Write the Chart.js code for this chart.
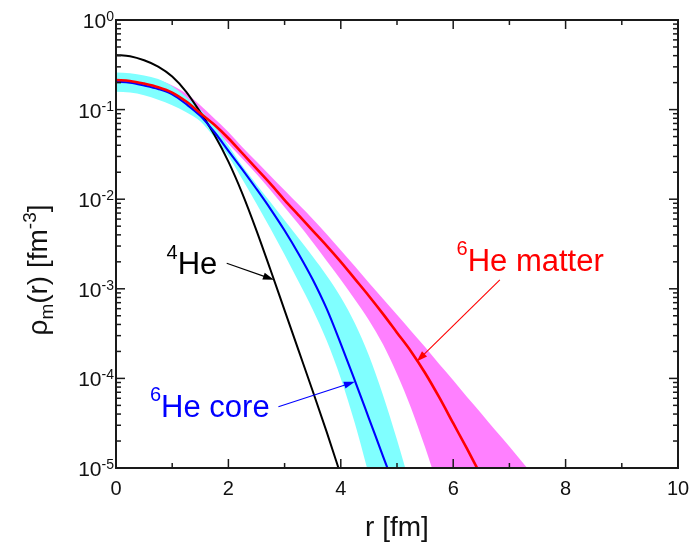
<!DOCTYPE html>
<html><head><meta charset="utf-8">
<script src="https://cdn.jsdelivr.net/npm/chart.js@4.4.1/dist/chart.umd.min.js"></script>
<style>html,body{margin:0;padding:0;background:#fff;overflow:hidden}canvas{display:block}</style>
</head><body>
<canvas id="c" width="691" height="545"></canvas>
<script>
// radius grid [fm]
const r = [0,0.25,0.5,0.75,1,1.25,1.5,1.75,2,2.25,2.5,2.75,3,3.25,3.5,3.75,4,4.25,4.5,4.75,5,5.25,5.5,5.75,6,6.25,6.5,6.75,7,7.25,7.5];
// 4He density
const he4 = [0.407,0.394,0.355,0.302,0.234,0.158,0.0933,0.0525,0.0263,0.0115,0.00447,0.00162,5.75e-4,2.04e-4,7.24e-5,2.51e-5,8.32e-6];
// 6He core: central line and band
const coreMid = [0.204,0.200,0.186,0.170,0.148,0.115,0.0851,0.0562,0.0347,0.0214,0.0130,0.00776,0.00447,0.00245,0.00127,5.96e-4,2.43e-4,9.44e-5,3.59e-5,1.36e-5,5.19e-6];
const coreHi = [0.260,0.254,0.240,0.219,0.182,0.138,0.100,0.0661,0.0398,0.0234,0.0146,0.00923,0.00582,0.00367,0.00229,0.00140,8.04e-4,4.12e-4,1.80e-4,6.53e-5,2.07e-5,5.96e-6];
const coreLo = [0.158,0.155,0.145,0.129,0.112,0.0933,0.0741,0.0490,0.0302,0.0166,0.00891,0.00468,0.00240,0.00120,5.89e-4,2.63e-4,1.00e-4,3.16e-5,8.32e-6,2.00e-6,4.00e-7,8.00e-8];
// 6He matter: central line and band
const matterMid = [0.214,0.209,0.195,0.178,0.155,0.123,0.0912,0.0676,0.0479,0.0324,0.0219,0.0148,0.00977,0.00661,0.00447,0.00302,0.00200,0.00129,8.32e-4,5.25e-4,3.24e-4,2.00e-4,1.15e-4,6.17e-5,3.16e-5,1.62e-5,8.13e-6];
const matterHi = [0.251,0.245,0.224,0.214,0.186,0.151,0.112,0.0794,0.0562,0.0380,0.0263,0.0182,0.0126,0.00871,0.00603,0.00407,0.00269,0.00178,0.00117,7.76e-4,5.13e-4,3.39e-4,2.24e-4,1.45e-4,9.55e-5,6.17e-5,4.07e-5,2.63e-5,1.74e-5,1.12e-5,7.41e-6];
const matterLo = [0.191,0.186,0.174,0.158,0.135,0.110,0.0832,0.0603,0.0417,0.0282,0.0191,0.0126,0.00813,0.00525,0.00331,0.00204,0.00126,7.59e-4,4.47e-4,2.40e-4,1.12e-4,4.68e-5,1.70e-5,5.62e-6,1.78e-6,5.62e-7,1.78e-7,5.62e-8,1.78e-8,5.62e-9,1.78e-9];

// ticks
const xMajor = [0,2,4,6,8,10];
const xMinor = [1,3,5,7,9];
const yMajor = [1,1e-1,1e-2,1e-3,1e-4,1e-5];
const yExp = ['0','-1','-2','-3','-4','-5'];
const yMinorMult = [2,3,4,5,6,7,8,9];

// annotations (data coordinates)
const labels = [
  {parts:[['4',20,-15],['He',31,0]], x:0.90, y:1.46e-3, color:'#000000'},
  {parts:[['6',20,-16],['He core',31,0]], x:0.605, y:3.74e-5, color:'#0000ff'},
  {parts:[['6',20,-16],['He matter',31,0]], x:6.06, y:1.58e-3, color:'#ff0000'}
];
const arrows = [
  {from:[1.97,1.93e-3], to:[2.81,1.26e-3], color:'#000000'},
  {from:[2.89,4.83e-5], to:[4.25,9.19e-5], color:'#0000ff'},
  {from:[6.83,1.26e-3], to:[5.35,1.54e-4], color:'#ff0000'}
];

const pts = v => v.map((y,i)=>({x:r[i], y}));
const FONT = '"Liberation Sans", Arial, Helvetica, sans-serif';

function measureRuns(ctx, parts){
  let w=0; for(const [t,s] of parts){ctx.font=s+'px '+FONT; w+=ctx.measureText(t).width;} return w;
}
function drawRuns(ctx, x, y, parts){
  let cx=x;
  for(const [t,s,dy] of parts){ctx.font=s+'px '+FONT; ctx.fillText(t,cx,y+dy); cx+=ctx.measureText(t).width;}
}

const deco = {
  id:'deco',
  afterDatasetsDraw(chart){
    const ctx=chart.ctx, a=chart.chartArea, xs=chart.scales.x, ys=chart.scales.y;
    ctx.save();
    ctx.textAlign='left'; ctx.textBaseline='alphabetic';
    // arrows
    for(const ar of arrows){
      const x0=xs.getPixelForValue(ar.from[0]), y0=ys.getPixelForValue(ar.from[1]);
      const x1=xs.getPixelForValue(ar.to[0]), y1=ys.getPixelForValue(ar.to[1]);
      const ang=Math.atan2(y1-y0,x1-x0), L=11, W=3.6;
      ctx.strokeStyle=ar.color; ctx.fillStyle=ar.color; ctx.lineWidth=1.1;
      ctx.beginPath(); ctx.moveTo(x0,y0); ctx.lineTo(x1-L*0.8*Math.cos(ang),y1-L*0.8*Math.sin(ang)); ctx.stroke();
      ctx.beginPath();
      ctx.moveTo(x1,y1);
      ctx.lineTo(x1-L*Math.cos(ang)+W*Math.sin(ang), y1-L*Math.sin(ang)-W*Math.cos(ang));
      ctx.lineTo(x1-L*Math.cos(ang)-W*Math.sin(ang), y1-L*Math.sin(ang)+W*Math.cos(ang));
      ctx.closePath(); ctx.fill();
    }
    // labels
    for(const lb of labels){
      ctx.fillStyle=lb.color;
      drawRuns(ctx, xs.getPixelForValue(lb.x), ys.getPixelForValue(lb.y), lb.parts);
    }
    // frame
    ctx.strokeStyle='#1a1a1a'; ctx.lineWidth=2;
    ctx.strokeRect(a.left,a.top,a.right-a.left,a.bottom-a.top);
    ctx.lineWidth=1.5;
    const tick=(x0,y0,x1,y1)=>{ctx.beginPath();ctx.moveTo(x0,y0);ctx.lineTo(x1,y1);ctx.stroke();};
    for(const v of xMajor){const x=xs.getPixelForValue(v); tick(x,a.bottom,x,a.bottom-9); tick(x,a.top,x,a.top+9);}
    for(const v of xMinor){const x=xs.getPixelForValue(v); tick(x,a.bottom,x,a.bottom-5); tick(x,a.top,x,a.top+5);}
    for(const v of yMajor){const y=ys.getPixelForValue(v); tick(a.left,y,a.left+9,y); tick(a.right,y,a.right-9,y);}
    for(let i=1;i<yMajor.length;i++){
      for(const m of yMinorMult){const y=ys.getPixelForValue(m*yMajor[i]); tick(a.left,y,a.left+5,y); tick(a.right,y,a.right-5,y);}
    }
    // tick labels
    ctx.fillStyle='#111';
    ctx.textAlign='center';
    ctx.font='20px '+FONT;
    for(const v of xMajor){ctx.fillText(String(v), xs.getPixelForValue(v), 495);}
    ctx.textAlign='left';
    yMajor.forEach((v,i)=>{
      const y=ys.getPixelForValue(v);
      const parts=[['10',21,8],[yExp[i],14,1]];
      const w=measureRuns(ctx,parts);
      drawRuns(ctx, a.left-2-w, y, parts);
    });
    // axis titles
    ctx.font='28px '+FONT; ctx.textAlign='center';
    ctx.fillText('r [fm]', (a.left+a.right)/2, 536);
    ctx.textAlign='left';
    const tparts=[['\u03C1',28,0],['m',19,6],['(r) [fm',28,0],['-3',19,-11],[']',28,0]];
    const tw=measureRuns(ctx,tparts);
    ctx.translate(47,270); ctx.rotate(-Math.PI/2);
    drawRuns(ctx,-tw/2,0,tparts);
    ctx.restore();
  }
};

const line = (data,color,w)=>({data:pts(data),borderColor:color,borderWidth:w,pointRadius:0,fill:false,cubicInterpolationMode:'monotone'});
const band = (data,color,fill)=>({data:pts(data),borderWidth:0,borderColor:'rgba(0,0,0,0)',backgroundColor:color,pointRadius:0,fill:fill,cubicInterpolationMode:'monotone'});

new Chart(document.getElementById('c'),{
  type:'line',
  data:{datasets:[
    line(matterMid,'#ff0000',2.6),
    line(coreMid,'#0000ff',2.1),
    line(he4,'#000000',2.0),
    band(coreHi,'#80ffff','+1'),
    band(coreLo,'#80ffff',false),
    band(matterHi,'#ff80ff','+1'),
    band(matterLo,'#ff80ff',false)
  ]},
  options:{
    responsive:false, devicePixelRatio:1, animation:false,
    layout:{padding:{left:116,right:13,top:20,bottom:77}},
    plugins:{legend:{display:false},tooltip:{enabled:false}},
    scales:{
      x:{type:'linear',min:0,max:10,display:false},
      y:{type:'logarithmic',min:1e-5,max:1,display:false}
    }
  },
  plugins:[deco]
});
</script></body></html>
